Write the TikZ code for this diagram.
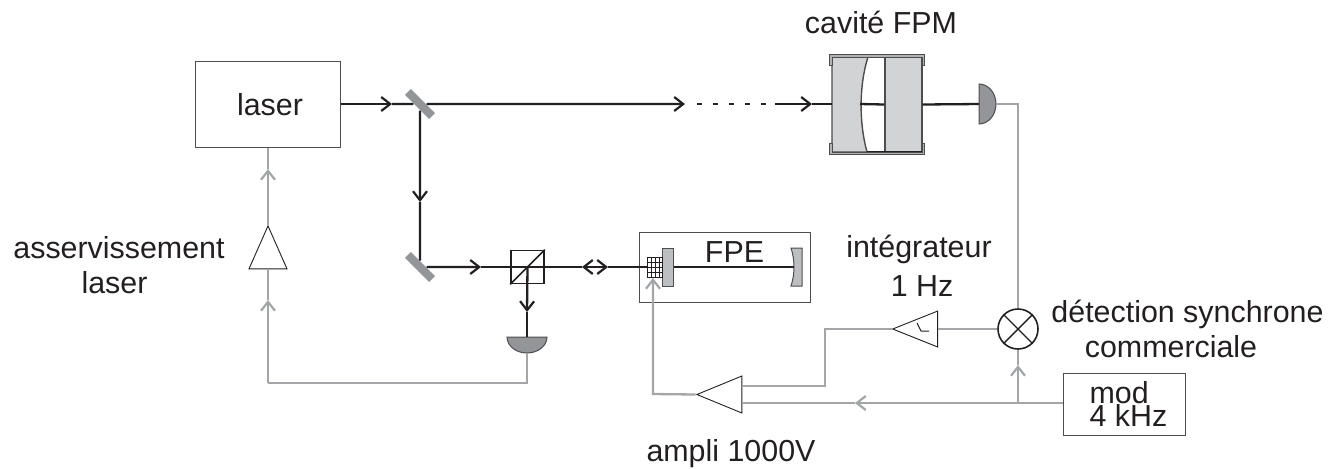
\documentclass[tikz,border=0pt]{standalone}
\usepackage{fontspec}
\setmainfont{Liberation Sans}
\usetikzlibrary{arrows.meta,shapes.geometric}
\definecolor{ink}{HTML}{231F20}
\definecolor{sig}{HTML}{A3A5A8}
\definecolor{dark}{HTML}{939598}
\definecolor{pale}{HTML}{D1D3D4}
\definecolor{mid}{HTML}{BCBEC0}
\tikzset{
  label/.style={inner sep=0pt,anchor=base,text=ink,font=\fontsize{15.2}{18}\selectfont},
  box/.style={draw=ink!80,line width=.5pt,inner sep=0pt,text=ink,font=\fontsize{15.2}{11.7}\selectfont},
  gain/.style={draw=ink,fill=white,line width=.45pt,isosceles triangle,isosceles triangle stretches,inner sep=0pt},
  mirror/.style={fill=dark,rotate=-45,minimum width=17pt,minimum height=4.2pt,inner sep=0pt},
  plate/.style={draw=ink!80,fill=mid,line width=.5pt},
  block/.style={draw=ink!80,fill=pale,line width=.7pt},
  sensor/.style={draw=ink!80,fill=dark,line width=.5pt},
  beam/.style={draw=ink,line width=1.15pt},
  sig/.style={draw=sig,line width=1.15pt},
  tip/.style={-{Straight Barb[length=4.5pt,width=7pt,line width=1.1pt]}}
}
\begin{document}
\begin{tikzpicture}[x=.5pt,y=-.5pt]
\useasboundingbox (0,0) rectangle (1340,468);
% boxes
\node[box,minimum width=72.5pt,minimum height=43pt] (laser) at (267.5,104) {};
\node[box,minimum width=85.5pt,minimum height=35pt] (fpe) at (724.5,267) {};
\node[box,minimum width=61pt,minimum height=31pt,align=left] (mod) at (1124,404) {\hspace*{4.5pt}mod\\\hspace*{4.5pt}4 kHz};
% optics
\node[mirror] (mone) at (420,104) {};
\node[mirror] (mtwo) at (420,267) {};
\node[draw=ink,line width=.8pt,minimum size=16.5pt,inner sep=0pt] (cube) at (527.5,267) {};
\node[plate,minimum width=5.5pt,minimum height=19pt,inner sep=0pt] (fpeback) at (667.5,267) {};
\coordinate (fpeface) at (794,267);
\coordinate (pztnw) at (647,257);
\coordinate (pztse) at (662,277);
\coordinate (cavin) at (832,104);
\coordinate (cavface) at (860,104);
\node[block,minimum width=18.5pt,minimum height=47.5pt,inner sep=0pt] (cavback) at (903.5,104.5) {};
\coordinate (detone) at (979,104);
\coordinate (dettwo) at (527,337);
% electronics
\node[gain,shape border rotate=90,minimum width=19pt,minimum height=21.5pt] (gainlaser) at (268,256.5) {};
\node[gain,shape border rotate=180,minimum width=18.5pt,minimum height=22.5pt] (amp) at (729.5,394.5) {};
\node[gain,shape border rotate=180,minimum width=18pt,minimum height=22.5pt] (integ) at (925.5,329) {};
\node[draw=ink,line width=.8pt,circle,minimum size=20pt,inner sep=0pt] (mix) at (1018,329) {};
\draw[ink,line width=.7pt] (mix.north west)--(mix.south east) (mix.north east)--(mix.south west);
\draw[ink,line width=.5pt] (917,323)--(921,331)--(929,331);
% cavity
\draw[block] (832,57)--(868,57) .. controls (859,85) and (859,123) .. (867,152)--(832,152)--cycle;
\draw[ink,line width=.7pt] (867,152)--(922,152) (868,57)--(922,57);
\draw[sensor,fill=dark!120!black] (829,65)--(829,54)--(924,54)--(924,65)--(922,65)--(922,57)--(832,57)--(832,65)--cycle;
\draw[sensor,fill=dark!120!black] (829,143)--(829,154)--(924,154)--(924,143)--(922,143)--(922,152)--(832,152)--(832,143)--cycle;
% detectors
\draw[sensor] (979,84) arc[start angle=-90,end angle=90,x radius=17,y radius=20]--cycle;
\draw[sensor] (507,337) arc[start angle=180,end angle=0,x radius=20,y radius=16]--cycle;
% etalon
\draw[plate] (802,248)--(791,248) .. controls (795,260) and (795,274) .. (791,286)--(802,286)--cycle;
\draw[ink,line width=.4pt] (pztnw) rectangle (pztse);
\foreach \x in {651,655,659} \draw[ink,line width=.4pt] (\x,257)--(\x,277);
\foreach \y in {262,267,272} \draw[ink,line width=.4pt] (647,\y)--(662,\y);
% beams
\coordinate (aone) at (392,104);
\coordinate (atwo) at (685,104);
\coordinate (athree) at (697,104);
\coordinate (afour) at (775,104);
\coordinate (afive) at (812,104);
\coordinate (adown) at (420,202);
\coordinate (aright) at (481,267);
\coordinate (aleft) at (582,267);
\coordinate (aback) at (608,267);
\coordinate (acube) at (527,312);
\draw[beam,tip] (laser.east)--(aone);
\draw[beam] (aone)--(mone);
\draw[beam,tip] (mone)--(atwo);
\draw[beam,dash pattern=on 2.5pt off 5.5pt] (athree)--(afour);
\draw[beam,tip] (afour)--(afive);
\draw[beam] (afive)--(cavin);
\draw[beam] (cavface)--(cavback.west);
\draw[beam] (cavback.east)--(detone);
\draw[beam,tip] (mone)--(adown);
\draw[beam] (adown)--(mtwo);
\draw[beam,tip] (mtwo)--(aright);
\draw[beam] (aright)--(cube.center);
\draw[beam] (cube.center)--(aleft);
\draw[beam,{Straight Barb[length=4.5pt,width=7pt,line width=1.1pt]}-{Straight Barb[length=4.5pt,width=7pt,line width=1.1pt]}] (aleft)--(aback);
\draw[beam] (aback)--(pztnw|-aback);
\draw[beam] (fpeback.east)--(fpeface);
\draw[ink,line width=.8pt] (cube.south west)--(cube.north east);
\draw[beam,tip] (cube.center)--(acube);
\draw[beam] (acube)--(dettwo);
% signals
\coordinate (gtop) at (268,169);
\coordinate (glow) at (268,300);
\coordinate (gcorner) at (268,383);
\coordinate (gdet) at (527,353);
\coordinate (gdetone) at (996,104);
\coordinate (gup) at (1018,365);
\coordinate (gjoin) at (1018,403);
\coordinate (gleft) at (855,403);
\coordinate (ampb) at (742,403);
\coordinate (ampa) at (742,386);
\coordinate (gturn) at (825,386);
\coordinate (gint) at (825,329);
\coordinate (gpzt) at (653,278);
\coordinate (gpztb) at (653,394);
\draw[sig,tip] (gainlaser.apex)--(gtop);
\draw[sig] (gtop)--(laser.south-|gtop);
\draw[sig] (gdet)--(gdet|-gcorner)--(gcorner);
\draw[sig,tip] (gcorner)--(glow);
\draw[sig] (glow)--(gainlaser.south);
\draw[sig] (gdetone)--(1018,104)--(mix.north);
\draw[sig] (mix.west)--(integ.east);
\draw[sig] (integ.apex)--(gint)--(gturn)--(ampa);
\draw[sig,tip] (mod.west|-gjoin)--(gleft);
\draw[sig] (gleft)--(ampb);
\draw[sig,tip] (gjoin)--(gup);
\draw[sig] (gup)--(mix.south);
\draw[sig,tip] (amp.apex)--(gpztb)--(gpzt);
% labels
\node[label] (laserlab) at (270,115) {laser};
\node[label] (cavlab) at (881,33) {cavité FPM};
\node[label] (fpelab) at (734.5,262) {FPE};
\node[label] (asslab) at (119,258) {asservissement};
\node[label] (asslabb) at (114.5,293) {laser};
\node[label] (intlab) at (919,257) {intégrateur};
\node[label] (intlabb) at (922,296) {1 Hz};
\node[label] (synlab) at (1187.5,322) {détection synchrone};
\node[label] (synlabb) at (1171,357) {commerciale};
\node[label] (amplab) at (731,461) {ampli 1000V};
\end{tikzpicture}
\end{document}
